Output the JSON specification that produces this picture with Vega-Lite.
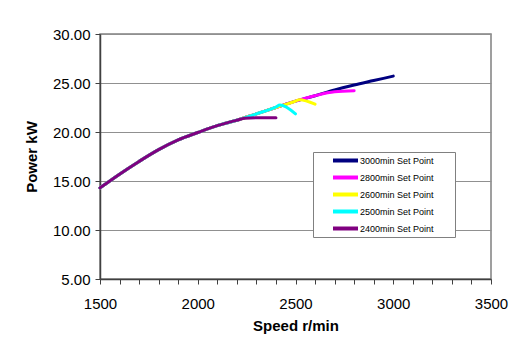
{
  "$schema": "https://vega.github.io/schema/vega-lite/v6.json",
  "width": 391,
  "height": 245,
  "autosize": {"type": "none"},
  "padding": {"left": 100, "top": 34, "right": 28, "bottom": 68},
  "background": "white",
  "config": {
    "font": "Liberation Sans",
    "view": {"stroke": "#808080", "strokeWidth": 1.5}
  },
  "data": {
    "values": [
      {"series": "3000min Set Point", "speed": 1500, "power": 14.3},
      {"series": "3000min Set Point", "speed": 1600, "power": 15.7},
      {"series": "3000min Set Point", "speed": 1700, "power": 17.0},
      {"series": "3000min Set Point", "speed": 1800, "power": 18.2},
      {"series": "3000min Set Point", "speed": 1900, "power": 19.2},
      {"series": "3000min Set Point", "speed": 2000, "power": 19.95},
      {"series": "3000min Set Point", "speed": 2100, "power": 20.65},
      {"series": "3000min Set Point", "speed": 2200, "power": 21.2},
      {"series": "3000min Set Point", "speed": 2300, "power": 21.85},
      {"series": "3000min Set Point", "speed": 2400, "power": 22.5},
      {"series": "3000min Set Point", "speed": 2500, "power": 23.15},
      {"series": "3000min Set Point", "speed": 2600, "power": 23.7},
      {"series": "3000min Set Point", "speed": 2700, "power": 24.3},
      {"series": "3000min Set Point", "speed": 2800, "power": 24.8},
      {"series": "3000min Set Point", "speed": 2900, "power": 25.25},
      {"series": "3000min Set Point", "speed": 3000, "power": 25.7},

      {"series": "2800min Set Point", "speed": 1500, "power": 14.3},
      {"series": "2800min Set Point", "speed": 1600, "power": 15.7},
      {"series": "2800min Set Point", "speed": 1700, "power": 17.0},
      {"series": "2800min Set Point", "speed": 1800, "power": 18.2},
      {"series": "2800min Set Point", "speed": 1900, "power": 19.2},
      {"series": "2800min Set Point", "speed": 2000, "power": 19.95},
      {"series": "2800min Set Point", "speed": 2100, "power": 20.65},
      {"series": "2800min Set Point", "speed": 2200, "power": 21.2},
      {"series": "2800min Set Point", "speed": 2300, "power": 21.85},
      {"series": "2800min Set Point", "speed": 2400, "power": 22.5},
      {"series": "2800min Set Point", "speed": 2500, "power": 23.15},
      {"series": "2800min Set Point", "speed": 2600, "power": 23.7},
      {"series": "2800min Set Point", "speed": 2700, "power": 24.1},
      {"series": "2800min Set Point", "speed": 2800, "power": 24.2},

      {"series": "2600min Set Point", "speed": 1500, "power": 14.3},
      {"series": "2600min Set Point", "speed": 1600, "power": 15.7},
      {"series": "2600min Set Point", "speed": 1700, "power": 17.0},
      {"series": "2600min Set Point", "speed": 1800, "power": 18.2},
      {"series": "2600min Set Point", "speed": 1900, "power": 19.2},
      {"series": "2600min Set Point", "speed": 2000, "power": 19.95},
      {"series": "2600min Set Point", "speed": 2100, "power": 20.65},
      {"series": "2600min Set Point", "speed": 2200, "power": 21.2},
      {"series": "2600min Set Point", "speed": 2300, "power": 21.85},
      {"series": "2600min Set Point", "speed": 2400, "power": 22.5},
      {"series": "2600min Set Point", "speed": 2500, "power": 23.15},
      {"series": "2600min Set Point", "speed": 2520, "power": 23.3},
      {"series": "2600min Set Point", "speed": 2600, "power": 22.85},

      {"series": "2500min Set Point", "speed": 1500, "power": 14.3},
      {"series": "2500min Set Point", "speed": 1600, "power": 15.7},
      {"series": "2500min Set Point", "speed": 1700, "power": 17.0},
      {"series": "2500min Set Point", "speed": 1800, "power": 18.2},
      {"series": "2500min Set Point", "speed": 1900, "power": 19.2},
      {"series": "2500min Set Point", "speed": 2000, "power": 19.95},
      {"series": "2500min Set Point", "speed": 2100, "power": 20.65},
      {"series": "2500min Set Point", "speed": 2200, "power": 21.2},
      {"series": "2500min Set Point", "speed": 2300, "power": 21.85},
      {"series": "2500min Set Point", "speed": 2400, "power": 22.55},
      {"series": "2500min Set Point", "speed": 2420, "power": 22.75},
      {"series": "2500min Set Point", "speed": 2500, "power": 21.85},

      {"series": "2400min Set Point", "speed": 1500, "power": 14.3},
      {"series": "2400min Set Point", "speed": 1600, "power": 15.7},
      {"series": "2400min Set Point", "speed": 1700, "power": 17.0},
      {"series": "2400min Set Point", "speed": 1800, "power": 18.2},
      {"series": "2400min Set Point", "speed": 1900, "power": 19.2},
      {"series": "2400min Set Point", "speed": 2000, "power": 19.95},
      {"series": "2400min Set Point", "speed": 2100, "power": 20.65},
      {"series": "2400min Set Point", "speed": 2200, "power": 21.2},
      {"series": "2400min Set Point", "speed": 2240, "power": 21.4},
      {"series": "2400min Set Point", "speed": 2300, "power": 21.45},
      {"series": "2400min Set Point", "speed": 2400, "power": 21.45}
    ]
  },
  "mark": {"type": "line", "strokeWidth": 3, "strokeCap": "round", "strokeJoin": "round", "interpolate": "monotone"},
  "encoding": {
    "x": {
      "field": "speed",
      "type": "quantitative",
      "scale": {"domain": [1500, 3500], "nice": false},
      "axis": {
        "values": [1500,1600,1700,1800,1900,2000,2100,2200,2300,2400,2500,2600,2700,2800,2900,3000,3100,3200,3300,3400,3500],
        "labelExpr": "datum.value % 500 == 0 ? datum.value : ''",
        "labelOverlap": false,
        "labelFlush": false,
        "grid": false,
        "title": "Speed r/min",
        "titleFontSize": 15,
        "titleFontWeight": "bold",
        "titleColor": "#000000",
        "titlePadding": 7,
        "labelFontSize": 15,
        "labelColor": "#000000",
        "labelPadding": 12,
        "tickSize": 5,
        "tickColor": "#404040",
        "domainColor": "#404040",
        "domainWidth": 1.5
      }
    },
    "y": {
      "field": "power",
      "type": "quantitative",
      "scale": {"domain": [5, 30], "nice": false, "zero": false},
      "axis": {
        "values": [5, 10, 15, 20, 25, 30],
        "format": ".2f",
        "grid": true,
        "gridColor": "#909090",
        "gridWidth": 1,
        "title": "Power kW",
        "titleFontSize": 15,
        "titleFontWeight": "bold",
        "titleColor": "#000000",
        "titlePadding": 13,
        "labelFontSize": 15,
        "labelColor": "#000000",
        "labelPadding": 5,
        "tickSize": 5,
        "tickColor": "#404040",
        "domainColor": "#404040",
        "domainWidth": 1.5
      }
    },
    "color": {
      "field": "series",
      "type": "nominal",
      "sort": ["3000min Set Point", "2800min Set Point", "2600min Set Point", "2500min Set Point", "2400min Set Point"],
      "scale": {
        "domain": ["3000min Set Point", "2800min Set Point", "2600min Set Point", "2500min Set Point", "2400min Set Point"],
        "range": ["#000080", "#FF00FF", "#FFFF00", "#00FFFF", "#800080"]
      },
      "legend": {
        "title": null,
        "orient": "none",
        "legendX": 213,
        "legendY": 118,
        "symbolType": "M-2,0H2",
        "symbolSize": 156,
        "symbolStrokeWidth": 4,
        "symbolFillColor": "transparent",
        "labelFontSize": 9,
        "labelColor": "#000000",
        "labelOffset": 6,
        "rowPadding": -1,
        "padding": 0,
        "strokeColor": "#808080",
        "fillColor": "white",
        "symbolOffset": 24,
        "labelExpr": "datum.label + '\u2800\u2800\u2800'"
      }
    }
  }
}
